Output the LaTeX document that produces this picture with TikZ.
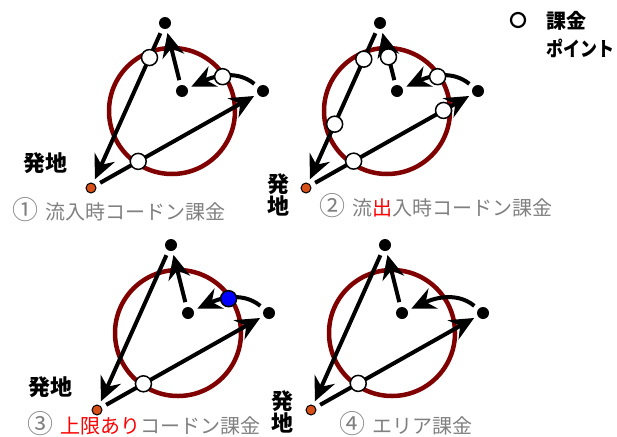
\documentclass[tikz,border=0pt]{standalone}
\usepackage{fontspec}
\setmainfont{Noto Sans CJK JP}
\usetikzlibrary{arrows.meta,calc}
\definecolor{ringred}{RGB}{128,0,0}
\definecolor{origc}{RGB}{214,80,24}
\definecolor{capgray}{RGB}{128,128,128}
\tikzset{
  blackdot/.style={circle,fill=black,inner sep=0pt,minimum size=12pt},
  origdot/.style={circle,fill=origc,draw=black,line width=1pt,inner sep=0pt,minimum size=10pt},
  ringc/.style={draw=ringred,line width=4.5pt},
  arr/.style={line width=4pt,-{Stealth[length=24pt,width=22pt,inset=8pt]},shorten <=5pt,shorten >=4pt},
  wpt/.style={circle,fill=white,draw=black,line width=1.5pt,inner sep=0pt,minimum size=16pt},
  bpt/.style={wpt,fill=blue},
  labtxt/.style={font=\bfseries\fontsize{22}{24}\selectfont,inner sep=0pt},
  captxt/.style={font=\fontsize{20}{22}\selectfont,text=capgray,inner sep=0pt,anchor=west},
}
\newcommand\cnum[1]{\raisebox{-0.8pt}{\scalebox{1.3}{#1}}\hspace{7pt}}
\newcommand\panelbase[2]{%
  \begin{scope}[shift={#2}]
    \draw[ringc] (7,88) circle[radius=63pt];
    \node[blackdot] (t#1) at (0,0) {};
    \node[blackdot] (r#1) at (98,68) {};
    \node[blackdot] (i#1) at (17,68) {};
    \node[origdot] (o#1) at (-74,165) {};
    \draw[arr] (o#1) -- (r#1);
    \draw[arr] (t#1) -- (o#1);
    \draw[arr] (i#1) -- (t#1);
    \draw[arr] (r#1) .. controls (70,45) and (45,55) .. coordinate[pos=0.5] (m#1) (i#1);
  \end{scope}}
\begin{document}
\begin{tikzpicture}[x=1pt,y=-1pt]
  \useasboundingbox (0,0) rectangle (617,436);
  \panelbase{1}{(165,23)}
  \panelbase{2}{(380,23)}
  \panelbase{3}{(171,245)}
  \panelbase{4}{(385,245)}
  % charging points
  \node[wpt] (w1a) at ($(o1)!(138,161)!(r1)$) {};
  \node[wpt] (w1b) at ($(t1)!(146,56)!(o1)$) {};
  \node[wpt] (w1c) at (m1) {};
  \node[wpt] (w2a) at ($(o2)!(353,160)!(r2)$) {};
  \node[wpt] (w2b) at ($(o2)!(445,113)!(r2)$) {};
  \node[wpt] (w2c) at ($(t2)!(359,57)!(o2)$) {};
  \node[wpt] (w2d) at ($(t2)!(332,123)!(o2)$) {};
  \node[wpt] (w2e) at ($(i2)!(392,56)!(t2)$) {};
  \node[wpt] (w2f) at (m2) {};
  \node[wpt] (w3a) at ($(o3)!(143,383)!(r3)$) {};
  \node[bpt] (w3b) at (m3) {};
  \node[wpt] (w4a) at ($(o4)!(358,383)!(r4)$) {};
  % origin labels
  \node[labtxt] (h1) at (45,163) {発地};
  \node[labtxt] (h2a) at (278,184) {発};
  \node[labtxt] (h2b) at (278,206) {地};
  \node[labtxt] (h3) at (50,387) {発地};
  \node[labtxt] (h4a) at (282,401) {発};
  \node[labtxt] (h4b) at (282,423) {地};
  % captions
  \node[captxt] (c1) at (12,210) {\cnum{①}流入時コードン課金};
  \node[captxt] (c2) at (319,206) {\cnum{②}流\textcolor{red}{出}入時コードン課金};
  \node[captxt] (c3) at (27,424) {\cnum{③}\textcolor{red}{上限あり}コードン課金};
  \node[captxt] (c4) at (339,424) {\cnum{④}エリア課金};
  % legend
  \node[wpt,minimum size=14pt,line width=2.2pt] (lg) at (518,20) {};
  \node[labtxt,anchor=west,font=\bfseries\fontsize{20}{22}\selectfont] (lt1) at (546,21) {課金};
  \node[labtxt,anchor=west,font=\bfseries\fontsize{20}{22}\selectfont] (lt2) at (546,48) {\scalebox{0.85}[1]{ポイント}};
\end{tikzpicture}
\end{document}
